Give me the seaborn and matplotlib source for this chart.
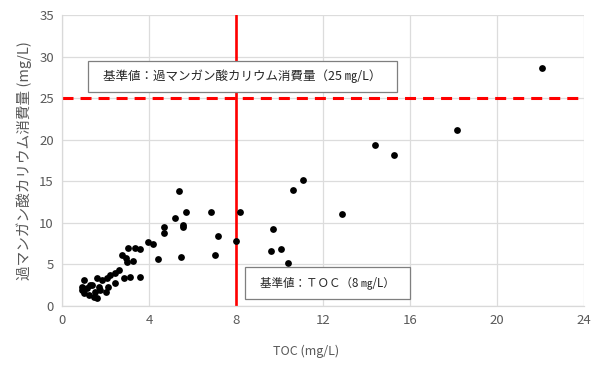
import numpy as np
import pandas as pd
import matplotlib
matplotlib.use("Agg")
import matplotlib.pyplot as plt
from matplotlib.patches import Rectangle
import seaborn as sns

# TOC (mg/L) vs permanganate consumption (mg/L)
toc = [22.1, 18.15, 14.4, 15.25, 11.1, 10.6, 12.9, 9.7, 9.6, 10.05, 10.4,
       5.38, 5.2, 5.72, 6.85, 8.18, 4.69, 4.69, 5.58, 5.58, 7.16, 8.0, 3.94, 4.2,
       4.4, 5.46, 7.03, 3.59,
       3.05, 3.33, 3.59, 2.74, 2.93, 2.97, 3.28, 2.6, 2.42, 2.2, 3.13, 2.84,
       2.45, 2.07, 1.84, 1.61, 1.0, 1.38, 1.69, 0.92, 1.15, 1.0, 1.23, 1.46,
       1.62, 1.53, 2.0, 1.29, 2.13, 1.75, 0.9]
kmno4 = [28.6, 21.1, 19.4, 18.2, 15.2, 13.9, 11.0, 9.2, 6.6, 6.9, 5.2,
         13.8, 10.6, 11.3, 11.3, 11.3, 9.5, 8.76, 9.7, 9.45, 8.36, 7.76, 7.7, 7.5,
         5.6, 5.9, 6.1, 3.5,
         7.0, 7.0, 6.9, 6.1, 5.8, 5.3, 5.4, 4.3, 3.9, 3.7, 3.5, 3.3,
         2.7, 3.4, 3.1, 3.4, 3.1, 2.5, 2.3, 2.3, 2.1, 1.5, 1.3, 1.1,
         1.0, 1.7, 1.7, 2.5, 2.3, 1.9, 1.9]

toc_limit = 8
kmno4_limit = 25
x_ticks = [0, 4, 8, 12, 16, 20, 24]
y_ticks = [0, 5, 10, 15, 20, 25, 30, 35]

df = pd.DataFrame({"TOC": toc, "KMnO4": kmno4})

sns.set_style("white")
plt.rcParams["font.family"] = ["Noto Sans CJK JP", "DejaVu Sans"]

fig, ax = plt.subplots(figsize=(5.92, 3.65), dpi=100)
fig.subplots_adjust(left=0.105, right=0.986, bottom=0.162, top=0.959)

ax.set_xlim(0, 24)
ax.set_ylim(0, 35)
ax.set_xticks(x_ticks)
ax.set_yticks(y_ticks)
ax.grid(True, color="#dcdcdc", linewidth=0.9)
ax.set_axisbelow(True)
for side in ["top", "right"]:
    ax.spines[side].set_visible(False)
for side in ["left", "bottom"]:
    ax.spines[side].set_color("#d9d9d9")
    ax.spines[side].set_linewidth(0.9)
ax.tick_params(length=0, labelsize=9.5, labelcolor="#595959", pad=6)

# limit lines
ax.axvline(toc_limit, color="#ff0000", linewidth=1.9, zorder=2)
ax.axhline(kmno4_limit, color="#ff0000", linewidth=2.2, dashes=(3.6, 2.3), zorder=2)

sns.scatterplot(data=df, x="TOC", y="KMnO4", color="black", s=24,
                edgecolor="black", linewidth=0, ax=ax, zorder=3)

ax.set_xlabel("TOC (mg/L)", fontsize=9, color="#595959", labelpad=8)
ax.xaxis.set_label_coords(0.467, -0.135)
ax.set_ylabel("過マンガン酸カリウム消費量 (mg/L)", fontsize=10.5, color="#595959", labelpad=5)

# text boxes
ax.add_patch(Rectangle((1.2, 25.7), 14.2, 3.8, facecolor="white",
                       edgecolor="#7f7f7f", linewidth=0.9, zorder=4))
ax.text(8.3, 27.6, "基準値：過マンガン酸カリウム消費量（25 ㎎/L）", ha="center",
        va="center", fontsize=9, color="#262626", zorder=5)
ax.add_patch(Rectangle((8.4, 0.8), 7.6, 3.9, facecolor="white",
                       edgecolor="#7f7f7f", linewidth=0.9, zorder=4))
ax.text(12.2, 2.75, "基準値：ＴＯＣ（8 ㎎/L）", ha="center", va="center",
        fontsize=8.3, color="#262626", zorder=5)

fig.savefig("out.png", dpi=100)
